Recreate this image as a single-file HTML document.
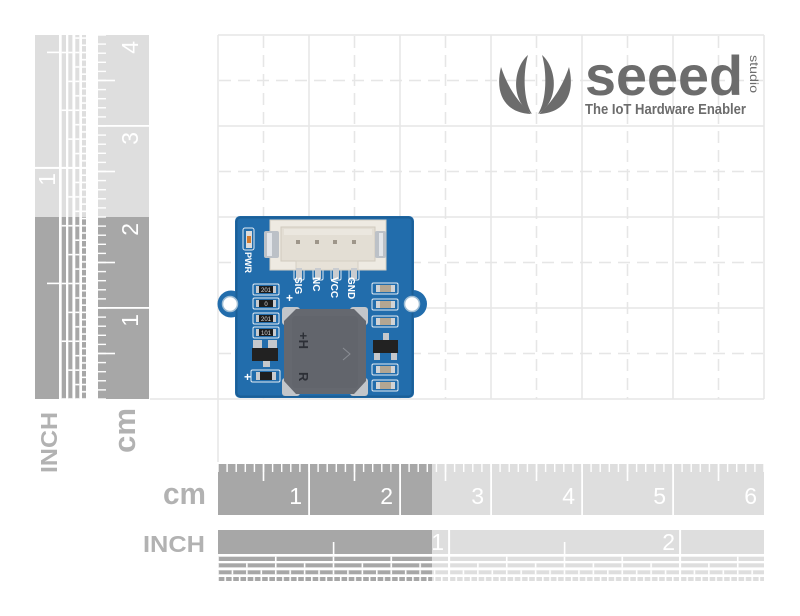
<!DOCTYPE html>
<html><head><meta charset="utf-8">
<style>
html,body{margin:0;padding:0;background:#fff;}
svg{display:block;}
text{font-family:"Liberation Sans",sans-serif;}
</style></head><body>
<svg width="800" height="616" viewBox="0 0 800 616" xmlns="http://www.w3.org/2000/svg">
<defs>
 <pattern id="mm" patternUnits="userSpaceOnUse" x="-0.7" y="0" width="9.1" height="60"><rect x="0" y="0" width="1.4" height="8" fill="#fff"/></pattern>
 <pattern id="hcm" patternUnits="userSpaceOnUse" x="44.7" y="0" width="91" height="60"><rect x="0" y="0" width="1.6" height="17" fill="#fff"/></pattern>
 <pattern id="r1" patternUnits="userSpaceOnUse" x="-0.8" y="0" width="57.75" height="60"><rect x="0" y="0" width="1.6" height="60" fill="#fff"/></pattern>
 <pattern id="r2" patternUnits="userSpaceOnUse" x="-0.8" y="0" width="28.875" height="60"><rect x="0" y="0" width="1.6" height="60" fill="#fff"/></pattern>
 <pattern id="r3" patternUnits="userSpaceOnUse" x="-0.8" y="0" width="14.4375" height="60"><rect x="0" y="0" width="1.6" height="60" fill="#fff"/></pattern>
 <pattern id="r4" patternUnits="userSpaceOnUse" x="-0.8" y="0" width="7.21875" height="60"><rect x="0" y="0" width="1.6" height="60" fill="#fff"/></pattern>
</defs>

<!-- GRID -->
<g stroke="#e6e6e6" stroke-width="1.5" fill="none">
 <g stroke-dasharray="12,7">
  <line x1="263.5" y1="36" x2="263.5" y2="399"/>
  <line x1="354.5" y1="36" x2="354.5" y2="399"/>
  <line x1="445.5" y1="36" x2="445.5" y2="399"/>
  <line x1="536.5" y1="36" x2="536.5" y2="399"/>
  <line x1="627.5" y1="36" x2="627.5" y2="399"/>
  <line x1="718.5" y1="36" x2="718.5" y2="399"/>
  <line x1="219" y1="80.5" x2="764" y2="80.5"/>
  <line x1="219" y1="171.5" x2="764" y2="171.5"/>
  <line x1="219" y1="262.5" x2="764" y2="262.5"/>
  <line x1="219" y1="353.5" x2="764" y2="353.5"/>
 </g>
 <line x1="218" y1="35" x2="218" y2="462"/>
 <line x1="309" y1="35" x2="309" y2="399"/>
 <line x1="400" y1="35" x2="400" y2="399"/>
 <line x1="491" y1="35" x2="491" y2="399"/>
 <line x1="582" y1="35" x2="582" y2="399"/>
 <line x1="673" y1="35" x2="673" y2="399"/>
 <line x1="764" y1="35" x2="764" y2="399"/>
 <line x1="218" y1="35" x2="764" y2="35"/>
 <line x1="218" y1="126" x2="764" y2="126"/>
 <line x1="218" y1="217" x2="764" y2="217"/>
 <line x1="218" y1="308" x2="764" y2="308"/>
 <line x1="150" y1="399" x2="764" y2="399"/>
</g>

<!-- LOGO -->
<g fill="#6c6c6c">
 <path d="M501,67 C494,96 507,113 531,114 C518,102 508,88 501,67 Z"/>
 <path d="M528,55 C513,68 510,101 532,114 C523,100 523,72 528,55 Z"/>
 <g transform="translate(1070,0) scale(-1,1)">
  <path d="M501,67 C494,96 507,113 531,114 C518,102 508,88 501,67 Z"/>
  <path d="M528,55 C513,68 510,101 532,114 C523,100 523,72 528,55 Z"/>
 </g>
 <text x="585" y="95" font-size="56" font-weight="bold" textLength="158" lengthAdjust="spacingAndGlyphs">seeed</text>
 <text transform="translate(750,55) rotate(90)" font-size="12" textLength="38" lengthAdjust="spacingAndGlyphs">studio</text>
 <text x="585" y="114" font-size="15" font-weight="bold" textLength="161" lengthAdjust="spacingAndGlyphs">The IoT Hardware Enabler</text>
</g>

<!-- HORIZONTAL CM RULER -->
<g transform="translate(218,464)">
 <rect x="0" y="0" width="214" height="51" fill="#a7a7a7"/>
 <rect x="214" y="0" width="332" height="51" fill="#dedede"/>
 <rect x="0" y="0" width="546" height="8" fill="url(#mm)"/>
 <rect x="0" y="0" width="546" height="17" fill="url(#hcm)"/>
 <g fill="#fff">
  <rect x="90.2" y="0" width="1.8" height="51"/>
  <rect x="181.2" y="0" width="1.8" height="51"/>
  <rect x="272.2" y="0" width="1.8" height="51"/>
  <rect x="363.2" y="0" width="1.8" height="51"/>
  <rect x="454.2" y="0" width="1.8" height="51"/>
 </g>
 <g fill="#fff" font-size="23" text-anchor="end">
  <text x="84" y="40">1</text><text x="175" y="40">2</text><text x="266" y="40">3</text>
  <text x="357" y="40">4</text><text x="448" y="40">5</text><text x="539" y="40">6</text>
 </g>
</g>

<!-- HORIZONTAL INCH RULER -->
<g transform="translate(218,530)">
 <rect x="0" y="0" width="214" height="51" fill="#a7a7a7"/>
 <rect x="214" y="0" width="332" height="51" fill="#dedede"/>
 <g fill="#fff">
  <rect x="0" y="24" width="546" height="2.7"/>
  <rect x="0" y="31" width="546" height="2.3"/>
  <rect x="0" y="37.4" width="546" height="2.9"/>
  <rect x="0" y="44.3" width="546" height="2.7"/>
 </g>
 <rect x="0" y="26.7" width="546" height="4.3" fill="url(#r1)"/>
 <rect x="0" y="33.3" width="546" height="4.1" fill="url(#r2)"/>
 <rect x="0" y="40.3" width="546" height="4" fill="url(#r3)"/>
 <rect x="0" y="47" width="546" height="4" fill="url(#r4)"/>
 <g fill="#fff">
  <rect x="230.1" y="0" width="2" height="51"/>
  <rect x="461.1" y="0" width="2" height="51"/>
  <rect x="114.8" y="12" width="1.6" height="12"/>
  <rect x="345.8" y="12" width="1.6" height="12"/>
 </g>
 <g fill="#fff" font-size="23" text-anchor="end">
  <text x="226" y="20">1</text><text x="457" y="20">2</text>
 </g>
</g>

<!-- VERTICAL CM RULER -->
<g transform="translate(98,399) rotate(-90)">
 <rect x="0" y="0" width="182" height="51" fill="#a7a7a7"/>
 <rect x="182" y="0" width="182" height="51" fill="#dedede"/>
 <rect x="0" y="0" width="364" height="8" fill="url(#mm)"/>
 <rect x="0" y="0" width="364" height="17" fill="url(#hcm)"/>
 <g fill="#fff">
  <rect x="90.2" y="0" width="1.8" height="51"/>
  <rect x="272.2" y="0" width="1.8" height="51"/>
 </g>
 <g fill="#fff" font-size="23" text-anchor="end">
  <text x="85" y="40">1</text><text x="176" y="40">2</text><text x="267" y="40">3</text><text x="358" y="40">4</text>
 </g>
</g>

<!-- VERTICAL INCH RULER -->
<g transform="translate(35,399) rotate(-90)">
 <rect x="0" y="0" width="182" height="51" fill="#a7a7a7"/>
 <rect x="182" y="0" width="182" height="51" fill="#dedede"/>
 <g fill="#fff">
  <rect x="0" y="24" width="364" height="2.7"/>
  <rect x="0" y="31" width="364" height="2.3"/>
  <rect x="0" y="37.4" width="364" height="2.9"/>
  <rect x="0" y="44.3" width="364" height="2.7"/>
 </g>
 <rect x="0" y="26.7" width="364" height="4.3" fill="url(#r1)"/>
 <rect x="0" y="33.3" width="364" height="4.1" fill="url(#r2)"/>
 <rect x="0" y="40.3" width="364" height="4" fill="url(#r3)"/>
 <rect x="0" y="47" width="364" height="4" fill="url(#r4)"/>
 <g fill="#fff">
  <rect x="230.1" y="0" width="2" height="51"/>
  <rect x="114.8" y="12" width="1.6" height="12"/>
  <rect x="345.8" y="12" width="1.6" height="12"/>
 </g>
 <text x="226" y="20" fill="#fff" font-size="23" text-anchor="end">1</text>
</g>

<!-- RULER LABELS -->
<g fill="#b2b2b2" font-weight="bold">
 <text x="143" y="552" font-size="23" textLength="62" lengthAdjust="spacingAndGlyphs">INCH</text>
 <text x="163" y="504" font-size="31" textLength="43" lengthAdjust="spacingAndGlyphs">cm</text>
 <text transform="translate(57,473) rotate(-90)" font-size="23" textLength="61" lengthAdjust="spacingAndGlyphs">INCH</text>
 <text transform="translate(135,453) rotate(-90)" font-size="31" textLength="45" lengthAdjust="spacingAndGlyphs">cm</text>
</g>

<!-- PCB -->
<g>
 <circle cx="231" cy="304" r="13.5" fill="#226dac"/>
 <circle cx="413" cy="304" r="14" fill="#226dac"/>
 <rect x="235" y="216" width="179" height="182" rx="5" fill="#226dac"/>
 <rect x="236.5" y="217.5" width="176" height="179" rx="4" fill="none" stroke="#1b5f97" stroke-width="2"/>
 <circle cx="230" cy="304" r="7.5" fill="#fff" stroke="#9fbdd4" stroke-width="1.5"/>
 <circle cx="412" cy="304" r="7.5" fill="#fff" stroke="#9fbdd4" stroke-width="1.5"/>

 <!-- silk outlines -->
 <g fill="none" stroke="#e4edf5" stroke-width="1">
  <rect x="243" y="228" width="11" height="22" rx="2"/>
  <rect x="253" y="284" width="26" height="11" rx="1.5"/>
  <rect x="253" y="298" width="26" height="11" rx="1.5"/>
  <rect x="253" y="313" width="26" height="11" rx="1.5"/>
  <rect x="253" y="327" width="26" height="11" rx="1.5"/>
  <rect x="372" y="283" width="26" height="11" rx="1.5"/>
  <rect x="372" y="299" width="26" height="11" rx="1.5"/>
  <rect x="372" y="316" width="26" height="11" rx="1.5"/>
  <rect x="372" y="364" width="26" height="11" rx="1.5"/>
  <rect x="372" y="380" width="26" height="11" rx="1.5"/>
  <rect x="251" y="370" width="29" height="12" rx="1.5"/>
  <rect x="294" y="264" width="10" height="16" rx="1.5"/>
  <rect x="313" y="264" width="10" height="16" rx="1.5"/>
  <rect x="331" y="264" width="10" height="16" rx="1.5"/>
  <rect x="349" y="264" width="10" height="16" rx="1.5"/>
 </g>

 <!-- LED -->
 <rect x="246" y="231" width="6" height="17" fill="#dcdcdc"/>
 <rect x="247" y="236" width="4" height="7" fill="#d27b2f"/>
 <text transform="translate(245,252) rotate(90)" font-size="9" font-weight="bold" fill="#fff">PWR</text>

 <!-- connector -->
 <rect x="270" y="220" width="116" height="50" fill="#eeeae2" stroke="#d4cec3"/>
 <rect x="281" y="227" width="94" height="34" fill="#e3ded4" stroke="#d0cabe"/>
 <rect x="284" y="229" width="88" height="6" fill="#ebe7df"/>
 <rect x="296" y="261" width="62" height="9" fill="#e7e2d8" stroke="#d6d0c5"/>
 <g fill="#9e968a">
  <rect x="296" y="240" width="4" height="4"/><rect x="315" y="240" width="4" height="4"/>
  <rect x="333" y="240" width="4" height="4"/><rect x="352" y="240" width="4" height="4"/>
 </g>
 <rect x="264" y="231" width="15" height="27" rx="2" fill="#bcc1c7"/>
 <rect x="267" y="233" width="5" height="23" fill="#e3e6ea"/>
 <rect x="375" y="231" width="11" height="27" rx="2" fill="#bcc1c7"/>
 <rect x="379" y="233" width="4" height="23" fill="#e3e6ea"/>
 <g fill="#c9ccd0">
  <rect x="296" y="268" width="6" height="11"/><rect x="315" y="268" width="6" height="11"/>
  <rect x="333" y="268" width="6" height="11"/><rect x="351" y="268" width="6" height="11"/>
 </g>
 <g fill="#fff" font-size="10" font-weight="bold">
  <text transform="translate(295,277) rotate(90)">SIG</text>
  <text transform="translate(313,277) rotate(90)">NC</text>
  <text transform="translate(331,277) rotate(90)">VCC</text>
  <text transform="translate(348,277) rotate(90)">GND</text>
  <text x="286" y="302" font-size="12">+</text>
  <text x="244" y="381" font-size="12">+</text>
 </g>

 <!-- left resistors -->
 <g>
  <rect x="256" y="286" width="20" height="7" fill="#1c1c1c"/>
  <rect x="256" y="300" width="20" height="7" fill="#1c1c1c"/>
  <rect x="256" y="315" width="20" height="7" fill="#1c1c1c"/>
  <rect x="256" y="329" width="20" height="7" fill="#1c1c1c"/>
  <g fill="#c8cbcf">
   <rect x="256" y="286" width="3" height="7"/><rect x="273" y="286" width="3" height="7"/>
   <rect x="256" y="300" width="3" height="7"/><rect x="273" y="300" width="3" height="7"/>
   <rect x="256" y="315" width="3" height="7"/><rect x="273" y="315" width="3" height="7"/>
   <rect x="256" y="329" width="3" height="7"/><rect x="273" y="329" width="3" height="7"/>
  </g>
  <g fill="#ddd" font-size="6" text-anchor="middle">
   <text x="266" y="292">201</text><text x="266" y="306">0</text>
   <text x="266" y="321">201</text><text x="266" y="335">101</text>
  </g>
 </g>

 <!-- right caps -->
 <g>
  <g fill="#b3a692">
   <rect x="376" y="285" width="19" height="7"/><rect x="376" y="301" width="19" height="7"/>
   <rect x="376" y="318" width="19" height="7"/><rect x="376" y="366" width="19" height="7"/>
   <rect x="376" y="382" width="19" height="7"/>
  </g>
  <g fill="#d2d4d6">
   <rect x="376" y="285" width="4" height="7"/><rect x="391" y="285" width="4" height="7"/>
   <rect x="376" y="301" width="4" height="7"/><rect x="391" y="301" width="4" height="7"/>
   <rect x="376" y="318" width="4" height="7"/><rect x="391" y="318" width="4" height="7"/>
   <rect x="376" y="366" width="4" height="7"/><rect x="391" y="366" width="4" height="7"/>
   <rect x="376" y="382" width="4" height="7"/><rect x="391" y="382" width="4" height="7"/>
  </g>
 </g>

 <!-- transistors -->
 <g fill="#c5c8cc">
  <rect x="383" y="333" width="6" height="8"/>
  <rect x="374" y="352" width="6" height="8"/><rect x="391" y="352" width="6" height="8"/>
  <rect x="253" y="340" width="9" height="9"/><rect x="268" y="340" width="9" height="9"/>
  <rect x="263" y="360" width="7" height="7"/>
 </g>
 <rect x="373" y="340" width="25" height="13" fill="#222"/>
 <rect x="252" y="348" width="26" height="13" fill="#222"/>
 <rect x="256" y="372" width="20" height="8" fill="#1e1e1e"/>
 <rect x="256" y="372" width="4" height="8" fill="#c8cbcf"/>
 <rect x="272" y="372" width="4" height="8" fill="#c8cbcf"/>

 <!-- buzzer -->
 <g fill="#c3c6ca">
  <rect x="282" y="307" width="18" height="18" rx="3"/>
  <rect x="350" y="307" width="18" height="18" rx="3"/>
  <rect x="282" y="378" width="18" height="18" rx="3"/>
  <rect x="350" y="378" width="18" height="18" rx="3"/>
 </g>
 <path d="M296,309 L354,309 L366,321 L366,381 L354,394 L296,394 L284,381 L284,321 Z" fill="#65686f"/>
 <rect x="292" y="316" width="66" height="72" rx="4" fill="#62656c"/>
 <g fill="#2c2f36" font-size="13" font-weight="bold">
  <text transform="translate(299,332) rotate(90)">+H</text>
  <text transform="translate(299,372) rotate(90)">R</text>
 </g>
 <path d="M343,348 L350,354 L343,360" fill="none" stroke="#8a8d94" stroke-width="1"/>
</g>
</svg>
</body></html>
